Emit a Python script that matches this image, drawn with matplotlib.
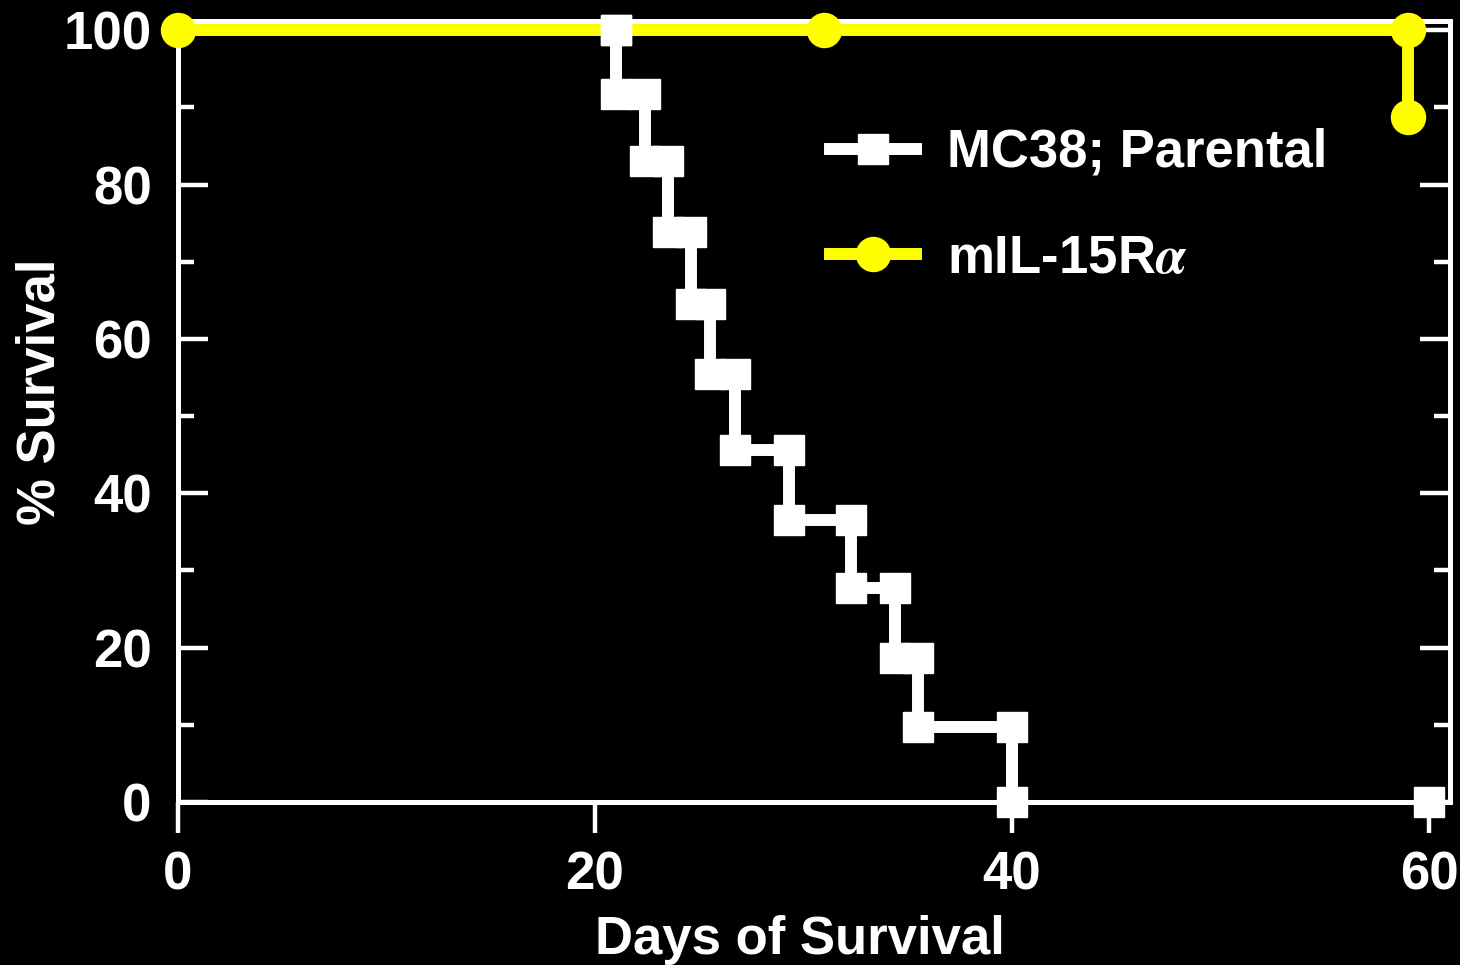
import matplotlib.pyplot as plt
from matplotlib.lines import Line2D
from matplotlib.ticker import MultipleLocator

plt.rcParams["font.family"] = ["Liberation Sans", "DejaVu Sans"]
plt.rcParams["font.weight"] = "bold"
plt.rcParams["mathtext.fontset"] = "stix"

# Kaplan-Meier data: day of each death and % survival after it
parental_days = [21.0, 22.4, 23.5, 24.6, 25.5, 26.7, 29.3, 32.3, 34.4, 35.5, 40.0]
parental_surv = [91.7, 83.0, 73.8, 64.5, 55.4, 45.6, 36.5, 27.7, 18.6, 9.7, 0.0]
parental_censor_days = [60]
parental_censor_surv = [0]

mil_start = 0
mil_days = [59]
mil_surv = [88.8]
mil_censor_days = [31]
mil_censor_surv = [100]

x_ticks = [0, 20, 40, 60]
y_ticks = [0, 20, 40, 60, 80, 100]

WHITE = "white"
YELLOW = "#ffff00"


def step_xy(first_day, days, surv, start=100):
    """Vertices of a survival step curve (horizontal then vertical)."""
    xs, ys = [first_day], [start]
    prev = start
    for d, s in zip(days, surv):
        xs += [d, d]
        ys += [prev, s]
        prev = s
    return xs, ys


fig = plt.figure(figsize=(14.6, 9.65), dpi=100, facecolor="black")
ax = fig.add_axes([0.1217, 0.1689, 0.8715, 0.8093], facecolor="black")

lw = 8.6
mx, my = step_xy(mil_start, mil_days, mil_surv)
ax.plot(mx, my, color=YELLOW, lw=lw, marker="o", ms=24.5, mec=YELLOW,
        clip_on=False, zorder=3, solid_joinstyle="miter")
ax.plot(mil_censor_days, mil_censor_surv, ls="none", marker="o", ms=24.5,
        color=YELLOW, clip_on=False, zorder=3)

# parental curve starts at 100% on the day of the first death
px, py = step_xy(parental_days[0], parental_days, parental_surv)
ax.plot(px, py, color=WHITE, lw=lw, marker="s", ms=20.9, mec=WHITE,
        clip_on=False, zorder=4, solid_joinstyle="miter")
ax.plot(parental_censor_days, parental_censor_surv, ls="none", marker="s",
        ms=20.9, color=WHITE, clip_on=False, zorder=4)

ax.set_xlim(0, 61)
ax.set_ylim(0, 101.2)
ax.set_xticks(x_ticks)
ax.set_yticks(y_ticks)
ax.yaxis.set_minor_locator(MultipleLocator(10))

for sp in ax.spines.values():
    sp.set_color(WHITE)
    sp.set_linewidth(3.6)

ax.tick_params(axis="x", direction="out", length=22, width=3.2, color=WHITE,
               labelcolor=WHITE, labelsize=38, pad=13)
ax.tick_params(axis="y", which="major", direction="in", length=21.6, width=3.2,
               color=WHITE, labelcolor=WHITE, labelsize=38, pad=18.7,
               right=True, labelright=False)
ax.tick_params(axis="y", which="minor", direction="in", length=11.5, width=3.2,
               color=WHITE, right=True)

ax.set_xlabel("Days of Survival", fontsize=38, color=WHITE, fontweight="bold")
ax.xaxis.label.set_verticalalignment("center")
ax.xaxis.set_label_coords(0.489, -0.177)
ax.set_ylabel("% Survival", fontsize=38, color=WHITE, fontweight="bold")
ax.yaxis.label.set_verticalalignment("center")
ax.yaxis.set_label_coords(-0.108, 0.525)

handles = [
    Line2D([], [], color=WHITE, lw=lw, marker="s", ms=20.9),
    Line2D([], [], color=YELLOW, lw=lw, marker="o", ms=24.5),
]
labels = ["MC38; Parental", "mIL-15R$\\alpha$"]
leg = fig.legend(handles, labels, loc="upper left",
                 bbox_to_anchor=(830 / 1460, 1 - 128 / 965),
                 frameon=False, fontsize=38, handlelength=1.62,
                 handletextpad=0.6, labelspacing=1.06, borderpad=0,
                 borderaxespad=0, numpoints=1)
for t in leg.get_texts():
    t.set_color(WHITE)

fig.savefig("out.png", dpi=100, facecolor="black")
